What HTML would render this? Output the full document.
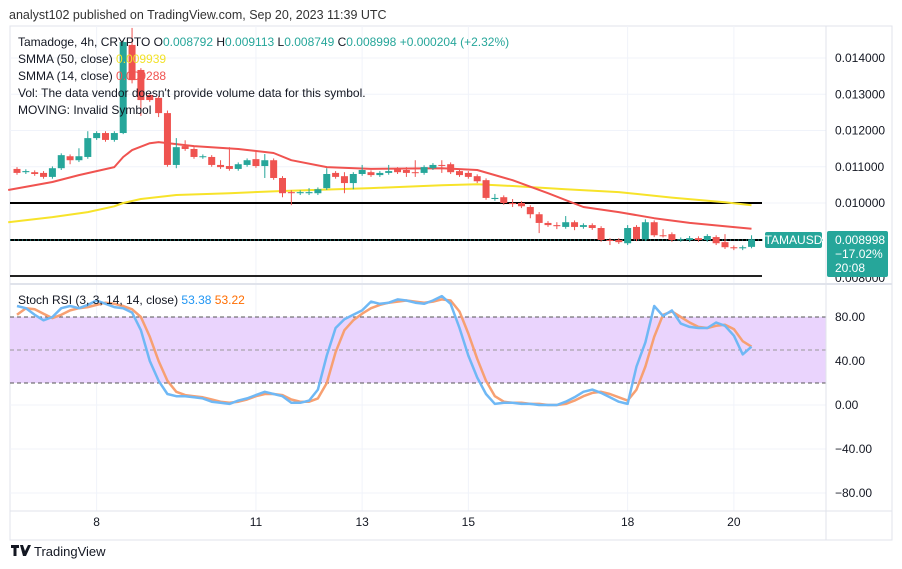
<!DOCTYPE html>
<html><head><meta charset="utf-8"><style>
html,body{margin:0;padding:0;background:#fff;}
svg{display:block;font-family:"Liberation Sans",sans-serif;}
</style></head><body>
<svg id="c" width="902" height="569" viewBox="0 0 902 569" xmlns="http://www.w3.org/2000/svg">
<text x="9" y="19" font-size="12.5" fill="#333">analyst102 published on TradingView.com, Sep 20, 2023 11:39 UTC</text>
<rect x="10" y="26" width="882" height="514" fill="#fff" stroke="#e0e3eb"/>
<g id="grid"></g>
<rect x="10" y="317" width="816" height="66" fill="#ead4fd"/>
<line x1="10" x2="826" y1="317" y2="317" stroke="#555" stroke-dasharray="4,3"/>
<line x1="10" x2="826" y1="350" y2="350" stroke="#999" stroke-dasharray="4,3"/>
<line x1="10" x2="826" y1="383" y2="383" stroke="#555" stroke-dasharray="4,3"/>
<line x1="826" x2="826" y1="26" y2="540" stroke="#e0e3eb"/>
<line x1="10" x2="892" y1="284" y2="284" stroke="#e0e3eb" stroke-width="2"/>
<line x1="10" x2="892" y1="511" y2="511" stroke="#e0e3eb"/>
<line x1="10" x2="762" y1="203" y2="203" stroke="#000" stroke-width="2"/>
<line x1="10" x2="762" y1="240" y2="240" stroke="#000" stroke-width="2"/>
<line x1="10" x2="826" y1="240" y2="240" stroke="#26a69a" stroke-dasharray="1,3"/>
<line x1="10" x2="762" y1="276" y2="276" stroke="#222" stroke-width="2"/>
<g id="marks"></g>
<g font-size="12" fill="#131722" style="white-space:pre">
<text x="18" y="46">Tamadoge, 4h, CRYPTO  O<tspan fill="#26a69a">0.008792</tspan>  H<tspan fill="#26a69a">0.009113</tspan>  L<tspan fill="#26a69a">0.008749</tspan>  C<tspan fill="#26a69a">0.008998</tspan>  <tspan fill="#26a69a">+0.000204 (+2.32%)</tspan></text>
<text x="18" y="63">SMMA (50, close)  <tspan fill="#f2e22a">0.009939</tspan></text>
<text x="18" y="80">SMMA (14, close)  <tspan fill="#f05350">0.009288</tspan></text>
<text x="18" y="97">Vol: The data vendor doesn't provide volume data for this symbol.</text>
<text x="18" y="114">MOVING: Invalid Symbol</text>
<text x="18" y="304">Stoch RSI (3, 3, 14, 14, close)  <tspan fill="#2196f3">53.38</tspan>  <tspan fill="#ff6d00">53.22</tspan></text>
</g>
<g id="axes" font-size="12" fill="#131722"></g>
<rect x="765" y="232" width="57" height="16" rx="2" fill="#26a69a"/>
<text x="793.5" y="244" font-size="12" fill="#fff" text-anchor="middle">TAMAUSD</text>
<rect x="827" y="231" width="61" height="46" rx="2" fill="#26a69a"/>
<text x="835" y="244" font-size="12" fill="#fff">0.008998</text>
<text x="835" y="258" font-size="12" fill="#fff">−17.02%</text>
<text x="835" y="272" font-size="12" fill="#fff">20:08</text>
<g>
<path d="M11 545h8v3h-2.5v8h-3v-8H11z M20 545h3l2 6 3-6h3l-5 11h-3z" fill="#131722"/>
<text x="34" y="556" font-size="13" fill="#131722">TradingView</text>
</g>
</svg>
<script>
const opens=[10.94,10.85,10.85,10.83,10.72,10.96,11.29,11.18,11.27,11.79,11.93,11.74,11.93,14.36,13.67,12.98,12.90,12.48,11.05,11.57,11.49,11.27,11.27,11.05,11.02,10.94,11.05,11.21,11.02,11.18,10.69,10.30,10.27,10.27,10.27,10.41,10.83,10.74,10.55,10.80,10.85,10.77,10.83,10.94,10.91,10.85,10.83,10.96,11.05,11.07,10.88,10.83,10.74,10.63,10.11,10.16,10.00,10.00,9.89,9.69,9.45,9.39,9.34,9.47,9.34,9.39,9.31,8.98,8.98,8.89,9.34,9.00,9.47,9.11,9.14,8.98,8.98,9.03,8.98,9.06,8.92,8.78,8.75,8.79];
const closes=[10.83,10.88,10.80,10.72,10.96,11.32,11.18,11.29,11.79,11.93,11.74,11.93,14.44,13.39,12.84,12.84,12.48,11.05,11.54,11.49,11.27,11.29,11.05,10.99,10.94,11.07,11.18,11.02,11.18,10.69,10.27,10.27,10.30,10.30,10.38,10.80,10.72,10.55,10.80,10.91,10.77,10.83,10.88,10.85,10.83,10.83,10.99,11.05,11.03,10.85,10.77,10.72,10.60,10.14,10.14,10.00,9.97,9.91,9.69,9.45,9.39,9.36,9.47,9.34,9.39,9.31,8.98,8.96,8.92,9.31,9.00,9.47,9.11,9.10,8.98,9.00,9.03,8.98,9.09,8.89,8.78,8.75,8.78,9.00];
const highs=[10.99,10.93,10.90,10.88,11.01,11.37,11.34,11.51,11.98,11.98,11.98,11.98,14.50,14.83,13.72,13.03,12.95,12.55,11.79,11.73,11.54,11.34,11.32,11.18,11.54,11.12,11.23,11.46,11.35,11.23,10.74,10.35,10.35,10.41,10.43,10.96,10.88,10.85,10.85,11.05,10.90,10.88,11.05,10.99,10.99,11.18,11.04,11.10,11.18,11.12,10.93,10.88,10.79,10.68,10.25,10.21,10.11,10.05,9.94,9.75,9.50,9.47,9.64,9.52,9.44,9.44,9.36,9.03,9.03,9.39,9.39,9.55,9.52,9.28,9.19,9.05,9.09,9.08,9.14,9.11,9.14,8.83,8.83,9.11];
const lows=[10.78,10.80,10.75,10.67,10.67,10.91,11.07,11.13,11.22,11.74,11.69,11.69,11.90,13.30,12.40,12.79,12.37,11.00,10.96,11.44,11.22,11.22,11.00,10.94,10.89,10.89,11.00,10.97,10.69,10.64,10.16,9.94,10.22,10.22,10.22,10.36,10.67,10.27,10.38,10.75,10.72,10.72,10.78,10.80,10.72,10.72,10.78,10.91,10.83,10.80,10.72,10.67,10.55,10.09,10.06,9.95,9.89,9.86,9.58,9.17,9.34,9.28,9.29,9.25,9.29,9.26,8.93,8.84,8.87,8.84,8.95,8.95,9.06,9.05,8.93,8.93,8.93,8.93,8.93,8.84,8.73,8.70,8.70,8.75];
const smma14Idx=[-1,4,7,11,12,13,15,16,20,25,29,31,35,40,48,52,56,60,64,68,72,76,80,83];
const smma14=[10.36,10.58,10.77,10.99,11.27,11.46,11.65,11.68,11.57,11.49,11.38,11.18,10.99,10.94,10.96,10.91,10.63,10.27,9.89,9.75,9.58,9.45,9.36,9.29];
const smma50Idx=[-1,4,8,11,12,14,18,24,30,40,48,52,56,62,68,74,80,83];
const smma50=[9.47,9.61,9.75,9.91,10.00,10.11,10.22,10.27,10.33,10.41,10.49,10.52,10.47,10.38,10.30,10.15,10.02,9.94];
const stochK=[90,88,82,77,80,88,90,88,91,95,92,89,88,84,68,40,22,10,8,8,7,6,3,2,1,4,6,9,12,10,8,2,2,4,14,45,70,78,82,86,94,92,93,96,95,93,92,95,99,92,70,45,25,10,1,2,2,1,1,0,0,0,3,7,12,14,11,7,3,1,35,57,90,81,86,74,71,70,70,75,72,63,46,53];
const stochD=[82,88,87,83,79,82,86,88,89,91,93,92,90,87,80,62,40,22,12,9,8,7,5,3,2,3,5,8,10,10,9,5,3,3,6,20,48,68,77,83,88,91,93,94,95,94,93,94,96,95,85,65,42,22,8,3,2,2,1,1,0,0,1,4,8,11,12,10,7,4,14,35,62,82,85,80,75,71,70,72,73,69,58,53];
const priceTicks=["0.014000","0.013000","0.012000","0.011000","0.010000"];
const priceTickVals=[14,13,12,11,10];
const stochTicks=["80.00","40.00","0.00","−40.00","−80.00"];
const stochTickVals=[80,40,0,-40,-80];
const dateLabels=["8","11","13","15","18","20"];
const dateIdx=[9,27,39,51,69,81];

const NS="http://www.w3.org/2000/svg";
const xOf=i=>17+i*8.85;
const yP=p=>203-(p-10)*36.25;
const yS=v=>405-v*1.1;
function mk(tag,attrs,parent){const e=document.createElementNS(NS,tag);for(const k in attrs)e.setAttribute(k,attrs[k]);parent.appendChild(e);return e;}
const grid=document.getElementById('grid'),marks=document.getElementById('marks'),axes=document.getElementById('axes');
priceTickVals.forEach((v,k)=>{
  const l=mk('line',{x1:10,x2:826,y1:yP(v),y2:yP(v),stroke:'#f0f3fa'},grid);
  
  
  const t=mk('text',{x:835,y:yP(v)+4},axes);t.textContent=priceTicks[k];
  
  
});
{const t=mk('text',{x:835,y:282},axes);t.textContent="0.008000";

}
stochTickVals.forEach((v,k)=>{
  const l=mk('line',{x1:10,x2:826,y1:yS(v),y2:yS(v),stroke:'#f0f3fa'},grid);
  
  
  const t=mk('text',{x:835,y:yS(v)+4},axes);t.textContent=stochTicks[k];
  
  
});
dateIdx.forEach((d,k)=>{
  const x=xOf(d);
  const l=mk('line',{x1:x,x2:x,y1:26,y2:511,stroke:'#f0f3fa'},grid);
  
  
  const t=mk('text',{x:x,y:526,'text-anchor':'middle'},axes);t.textContent=dateLabels[k];
  
  
});
function line(idx,vals,yf,color,w,name){
  const pts=vals.map((v,k)=>xOf(idx?idx[k]:k).toFixed(1)+','+yf(v).toFixed(1)).join(' ');
  const p=mk('polyline',{points:pts,fill:'none',stroke:color,'stroke-width':w,'stroke-linejoin':'round'},marks);
  
  
}
line(smma50Idx,smma50,yP,'#f7e32a',2,'smma50-line');
line(smma14Idx,smma14,yP,'#f05350',2,'smma14-line');
opens.forEach((o,i)=>{
  const c=closes[i],up=c>=o,col=up?'#26a69a':'#ef5350',x=xOf(i);
  const w=mk('line',{x1:x,x2:x,y1:yP(highs[i]),y2:yP(lows[i]),stroke:col,'stroke-width':1},marks);
  
  
  const top=yP(Math.max(o,c)),bot=yP(Math.min(o,c));
  const b=mk('rect',{x:x-3.5,y:top,width:7,height:Math.max(1,bot-top),fill:col},marks);
  
  
});
line(null,stochD,yS,'#f7a072',2.5,'stoch-d-line');
line(null,stochK,yS,'#6fb8f5',2.5,'stoch-k-line');
</script>
</body></html>
